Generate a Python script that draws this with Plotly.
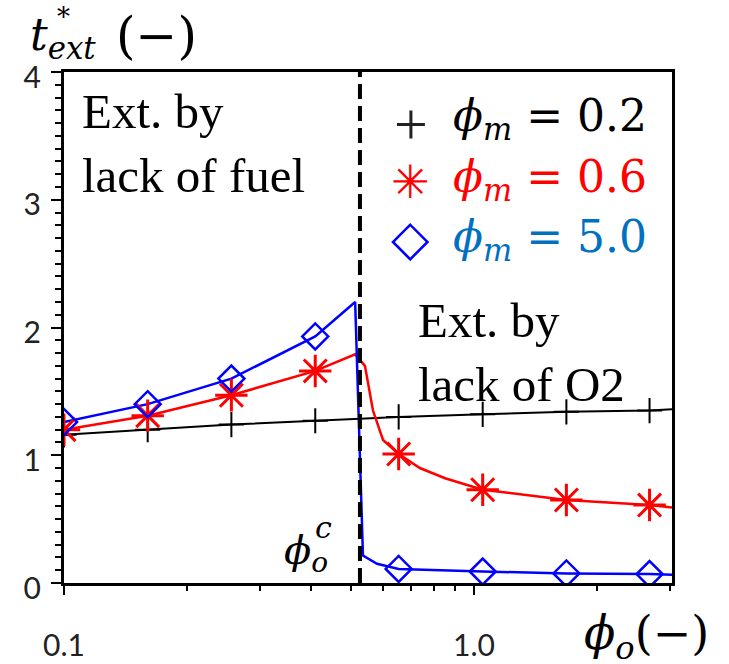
import plotly.graph_objects as go

# ---- data ----
phi_o_markers = [0.1, 0.16, 0.256, 0.41, 0.655, 1.05, 1.68, 2.68]
t_black = [1.16, 1.20, 1.24, 1.27, 1.30, 1.32, 1.34, 1.35]
t_red = [1.20, 1.31, 1.47, 1.66, 1.01, 0.73, 0.65, 0.61]
t_blue = [1.26, 1.40, 1.60, 1.93, 0.11, 0.09, 0.075, 0.07]

black_line_x = [0.1, 0.16, 0.256, 0.41, 0.655, 1.05, 1.68, 2.68, 3.04]
black_line_y = [1.16, 1.20, 1.24, 1.27, 1.30, 1.32, 1.34, 1.35, 1.36]
red_line_x = [0.1, 0.16, 0.256, 0.41, 0.513, 0.542, 0.567, 0.60, 0.655, 0.738, 0.85, 1.05, 1.68, 2.68, 3.04]
red_line_y = [1.20, 1.31, 1.47, 1.66, 1.79, 1.70, 1.35, 1.12, 1.01, 0.90, 0.82, 0.73, 0.65, 0.61, 0.59]
blue_line_x = [0.1, 0.16, 0.256, 0.41, 0.513, 0.536, 0.58, 0.655, 1.05, 1.68, 2.68, 3.04]
blue_line_y = [1.26, 1.40, 1.60, 1.93, 2.20, 0.215, 0.15, 0.11, 0.09, 0.075, 0.07, 0.065]

phi_o_critical = 0.527
y_range = [0, 4]
x_tickvals = [0.1, 1.0]
x_ticktext = ["0.1", "1.0"]
x_minor_vals = [0.2, 0.3, 0.4, 0.5, 0.6, 0.7, 0.8, 0.9, 2.0, 3.0]
y_tickvals = [0, 1, 2, 3, 4]

RED = "#FF0000"
BLUE = "#0000FF"
BLUE_TXT = "#0070C0"

fig = go.Figure()
fig.add_trace(go.Scatter(x=black_line_x, y=black_line_y, mode="lines",
                         line=dict(color="black", width=2), showlegend=False))
fig.add_trace(go.Scatter(x=red_line_x, y=red_line_y, mode="lines",
                         line=dict(color=RED, width=2.5), showlegend=False))
fig.add_trace(go.Scatter(x=blue_line_x, y=blue_line_y, mode="lines",
                         line=dict(color=BLUE, width=2.5), showlegend=False))
fig.add_trace(go.Scatter(x=phi_o_markers, y=t_black, mode="markers",
                         marker=dict(symbol="cross-thin", size=18, color="black",
                                     line=dict(color="black", width=2)), showlegend=False))
fig.add_trace(go.Scatter(x=phi_o_markers, y=t_red, mode="markers",
                         marker=dict(symbol="asterisk-open", size=27, color=RED,
                                     line=dict(color=RED, width=3)), showlegend=False))
fig.add_trace(go.Scatter(x=phi_o_markers, y=t_blue, mode="markers",
                         marker=dict(symbol="diamond-open", size=20, color=BLUE,
                                     line=dict(color=BLUE, width=2.5)), showlegend=False))

fig.add_shape(type="line", xref="x", yref="paper", x0=phi_o_critical, x1=phi_o_critical,
              y0=0, y1=1, line=dict(color="black", width=4, dash="15px,7px"))

# layout geometry (pixels)
L, R, T, B = 64, 672, 72, 583
W, H = 729, 664

def px(x):
    return (x - L) / (R - L)

def py(y):
    return (B - y) / (B - T)

SERIF = "Liberation Serif, Times New Roman, serif"
MATH = "DejaVu Serif, serif"

ann = []
def add(text, x, y, size, font=SERIF, color="black", xa="left", ya="middle"):
    ann.append(dict(text=text, x=px(x), y=py(y), xref="paper", yref="paper",
                    xanchor=xa, yanchor=ya, showarrow=False, align="left",
                    font=dict(family=font, size=size, color=color)))

add("Ext. by<br>lack of fuel", 80, 143, 49)
add("Ext. by<br>lack of O2", 416, 352, 49)
# legend
add("<i>ϕ</i><sub><i>m</i></sub> = 0.2", 451, 118, 44, MATH, "black")
add("<i>ϕ</i><sub><i>m</i></sub> = 0.6", 451, 179, 44, MATH, RED)
add("<i>ϕ</i><sub><i>m</i></sub> = 5.0", 451, 239, 44, MATH, BLUE_TXT)
add("+", 411, 124, 60, SERIF, "#222222", xa="center")
add("✳", 410, 182, 46, "DejaVu Sans", RED, xa="center")
add("◇", 410, 238, 50, "DejaVu Sans", BLUE, xa="center")
# axis titles
add("<i>t<sub>ext</sub></i>", 28, 38, 44, MATH)
add("(−)", 114, 36, 50, MATH)
add("*", 55, 17, 26, MATH)
add("<i>ϕ<sub>o</sub></i>(−)", 582, 636, 46, MATH)
add("<i>ϕ<sub>o</sub></i>", 282, 553, 40, MATH)
add("<i>c</i>", 313, 527, 30, MATH)

fig.update_layout(
    width=W, height=H, autosize=False,
    margin=dict(l=L, r=W - R, t=T, b=H - B, pad=0),
    paper_bgcolor="white", plot_bgcolor="white",
    showlegend=False,
    annotations=ann,
    xaxis=dict(type="log", range=[-1, 0.4829], showgrid=False, zeroline=False,
               automargin=False,
               showline=True, linecolor="black", linewidth=3, mirror=True,
               ticks="outside", ticklen=9, tickwidth=2, tickcolor="black",
               tickvals=x_tickvals, ticktext=x_ticktext, ticklabelstandoff=25,
               tickfont=dict(family="Lato, Open Sans, sans-serif", size=30, color="#222"),
               minor=dict(tickvals=x_minor_vals, ticks="outside", ticklen=5, tickwidth=2,
                          tickcolor="black", showgrid=False)),
    yaxis=dict(range=y_range, showgrid=False, zeroline=False,
               automargin=False,
               showline=True, linecolor="black", linewidth=3, mirror=True,
               ticks="outside", ticklen=10, tickwidth=2, tickcolor="black",
               tickvals=y_tickvals, ticklabelstandoff=4, ticklabelshift=5,
               tickfont=dict(family="Lato, Open Sans, sans-serif", size=30, color="#222"),
               minor=dict(dtick=0.1, ticks="outside", ticklen=6, tickwidth=2,
                          tickcolor="black", showgrid=False)),
)

fig.write_html("out.html")
